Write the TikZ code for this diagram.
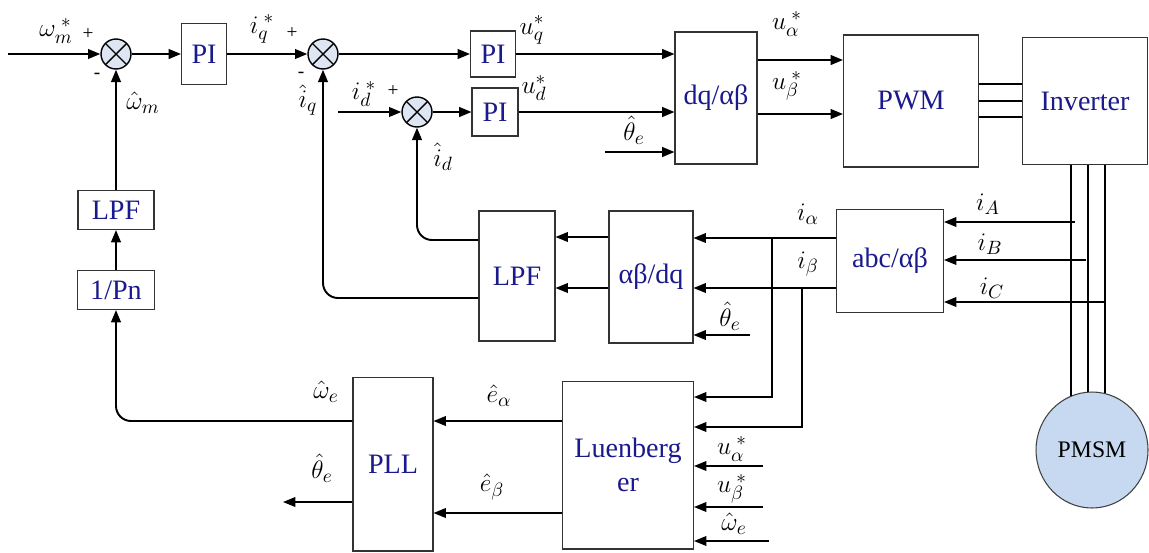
\documentclass[tikz,border=0pt]{standalone}
\usepackage{fontspec}
\setmainfont{Liberation Serif}
\usetikzlibrary{arrows.meta,calc,positioning,shapes.geometric}
\definecolor{boxtext}{HTML}{1A1A8C}
\definecolor{sumfill}{HTML}{DDE6F2}
\definecolor{motorfill}{HTML}{C6D9F0}
\tikzset{
  blk/.style={draw=black!80,line width=0.6pt,fill=white,text=boxtext,font=\fontsize{16}{19}\selectfont,inner sep=0pt,align=center},
  sumnode/.style={circle,draw,line width=0.8pt,fill=sumfill,minimum size=0.6cm,inner sep=0pt,
    path picture={\draw[line width=0.8pt] (path picture bounding box.north west)--(path picture bounding box.south east)
      (path picture bounding box.north east)--(path picture bounding box.south west);}},
  sig/.style={line width=1.1pt,-{Triangle[length=7pt,width=5.5pt]}},
  thinsig/.style={line width=0.8pt,-{Triangle[length=7pt,width=5.5pt]}},
  wire/.style={line width=1.1pt},
  lab/.style={font=\fontsize{15}{17}\selectfont,inner sep=0.5pt},
  sgn/.style={font=\fontsize{11}{13}\selectfont,inner sep=0pt}
}
\begin{document}
\begin{tikzpicture}[x=0.02cm,y=-0.02cm]
\useasboundingbox (0,0) rectangle (1149,552);
\node[sumnode] (sum1) at (116,54) {};
\node[blk,minimum width=0.9cm,minimum height=1.22cm] (pi1) at (204,54) {PI};
\node[sumnode] (sum2) at (323,54) {};
\node[blk,minimum width=0.9cm,minimum height=0.92cm] (pi2) at (493,54) {PI};
\node[sumnode] (sum3) at (417,112) {};
\node[blk,minimum width=0.92cm,minimum height=0.96cm] (pi3) at (495,112) {PI};
\node[blk,minimum width=1.64cm,minimum height=2.64cm] (dqab) at (716,98) {dq/αβ};
\node[blk,minimum width=2.7cm,minimum height=2.64cm] (pwm) at (911,101) {PWM};
\node[blk,minimum width=2.5cm,minimum height=2.54cm] (inv) at (1085,101) {Inverter};
\node[blk,minimum width=2.14cm,minimum height=2.06cm] (abc) at (890,261) {abc/αβ};
\node[blk,minimum width=1.68cm,minimum height=2.64cm] (abdq) at (651,277) {αβ/dq};
\node[blk,minimum width=1.52cm,minimum height=2.6cm] (lpfm) at (517,276) {LPF};
\node[blk,minimum width=1.52cm,minimum height=0.78cm] (lpfl) at (116,210) {LPF};
\node[blk,minimum width=1.54cm,minimum height=0.78cm] (pn) at (116,290) {1/Pn};
\node[blk,minimum width=1.6cm,minimum height=3.48cm] (pll) at (393,464) {PLL};
\node[blk,minimum width=2.62cm,minimum height=3.36cm] (lue) at (628,465) {Luenberg\\er};
\node[ellipse,draw=black!75,line width=0.6pt,fill=motorfill,minimum width=2.24cm,minimum height=2.32cm,inner sep=0pt,font=\fontsize{13.5}{16}\selectfont] (pmsm) at (1092,450) {PMSM};

\coordinate (win) at (8,54);
\draw[sig] (win) -- (sum1);
\draw[sig] (sum1) -- (pi1);
\draw[sig] (pi1) -- (sum2);
\draw[sig] (sum2) -- (pi2);
\draw[sig] (pi2) -- (pi2 -| dqab.west);
\coordinate (idin) at (338,112);
\draw[sig] (idin) -- (sum3);
\draw[sig] (sum3) -- (pi3);
\draw[sig] (pi3) -- (pi3 -| dqab.west);
\coordinate (thin1) at (605,152);
\draw[sig] (thin1) -- (thin1 -| dqab.west);
\coordinate (ua1) at ($(dqab.east)+(0,-38)$);
\coordinate (ub1) at ($(dqab.east)+(0,16)$);
\draw[sig] (ua1) -- (ua1 -| pwm.west);
\draw[sig] (ub1) -- (ub1 -| pwm.west);
\foreach \dy in {-17,0,16}
  \draw[wire] ($(pwm.east)+(0,\dy)$) -- ($(inv.west)+(0,\dy)$);
\foreach \a in {111,94,77}
  \draw[wire] (pmsm.\a |- inv.south) -- (pmsm.\a);

\coordinate (tA) at (1075,222);
\coordinate (tB) at (1086,260);
\coordinate (tC) at (1105,302);
\draw[thinsig] (tA) -- (tA -| abc.east);
\draw[thinsig] (tB) -- (tB -| abc.east);
\draw[thinsig] (tC) -- (tC -| abc.east);
\coordinate (ia) at ($(abc.west)+(0,-23)$);
\coordinate (ib) at ($(abc.west)+(0,27)$);
\draw[thinsig] (ia) -- (ia -| abdq.east);
\draw[thinsig] (ib) -- (ib -| abdq.east);
\coordinate (ja) at (772,238);
\coordinate (jb) at (802,288);
\draw[thinsig] (ja) |- ($(lue.east)+(0,-68)$);
\draw[thinsig] (jb) |- ($(lue.east)+(0,-38)$);
\coordinate (thin2) at (750,335);
\draw[thinsig] (thin2) -- (thin2 -| abdq.east);
\coordinate (oa) at ($(abdq.west)+(0,-40)$);
\coordinate (ob) at ($(abdq.west)+(0,11)$);
\draw[thinsig] (oa) -- (oa -| lpfm.east);
\draw[thinsig] (ob) -- (ob -| lpfm.east);
\draw[sig,rounded corners=0.3cm] ($(lpfm.west)+(0,-36)$) -| (sum3.south);
\draw[sig,rounded corners=0.3cm] ($(lpfm.west)+(0,22)$) -| (sum2.south);
\draw[sig] (pn) -- (lpfl);
\draw[sig] (lpfl) -- (sum1);
\draw[sig,rounded corners=0.3cm] ($(pll.west)+(0,-43)$) -| (pn.south);
\coordinate (ea) at ($(lue.west)+(0,-44)$);
\coordinate (eb) at ($(lue.west)+(0,48)$);
\draw[thinsig] (ea) -- (ea -| pll.east);
\draw[thinsig] (eb) -- (eb -| pll.east);
\coordinate (thout) at (283,502);
\draw[thinsig] (pll.west |- thout) -- (thout);
\coordinate (uain) at (763,466);
\coordinate (ubin) at (763,507);
\coordinate (wein) at (769,541);
\draw[thinsig] (uain) -- (uain -| lue.east);
\draw[thinsig] (ubin) -- (ubin -| lue.east);
\draw[thinsig] (wein) -- (wein -| lue.east);

\node[lab] (lwref) at (56,31) {$\omega_m^{\;*}$};
\node[sgn] (s1p) at (88,34) {+};
\node[sgn] (s1m) at (97,76) {-};
\node[lab] (lwm) at (143,103) {$\hat{\omega}_m$};
\node[lab] (liqref) at (262,29) {$i_q^{\;*}$};
\node[sgn] (s2p) at (292,33) {+};
\node[sgn] (s2m) at (301,75) {-};
\node[lab] (liq) at (308,100) {$\hat{i}_q$};
\node[lab] (luq) at (532,30) {$u_q^*$};
\node[lab] (lidref) at (364,94) {$i_d^{\;*}$};
\node[sgn] (s3p) at (393,91) {+};
\node[lab] (lud) at (534,88) {$u_d^*$};
\node[lab] (lid) at (443,157) {$\hat{i}_d$};
\node[lab] (lth1) at (634,130) {$\hat{\theta}_e$};
\node[lab] (lua) at (787,24) {$u_\alpha^{\;*}$};
\node[lab] (lub) at (787,86) {$u_\beta^{\;*}$};
\node[lab] (liA) at (988,204) {$i_A$};
\node[lab] (liB) at (990,244) {$i_B$};
\node[lab] (liC) at (992,288) {$i_C$};
\node[lab] (lia) at (808,214) {$i_\alpha$};
\node[lab] (lib) at (808,264) {$i_\beta$};
\node[lab] (lth2) at (730,316) {$\hat{\theta}_e$};
\node[lab] (lwe1) at (326,392) {$\hat{\omega}_e$};
\node[lab] (lea) at (499,396) {$\hat{e}_\alpha$};
\node[lab] (lth3) at (322,468) {$\hat{\theta}_e$};
\node[lab] (leb) at (492,487) {$\hat{e}_\beta$};
\node[lab] (lua2) at (732,449) {$u_\alpha^{\;*}$};
\node[lab] (lub2) at (732,489) {$u_\beta^{\;*}$};
\node[lab] (lwe2) at (734,524) {$\hat{\omega}_e$};
\end{tikzpicture}
\end{document}
